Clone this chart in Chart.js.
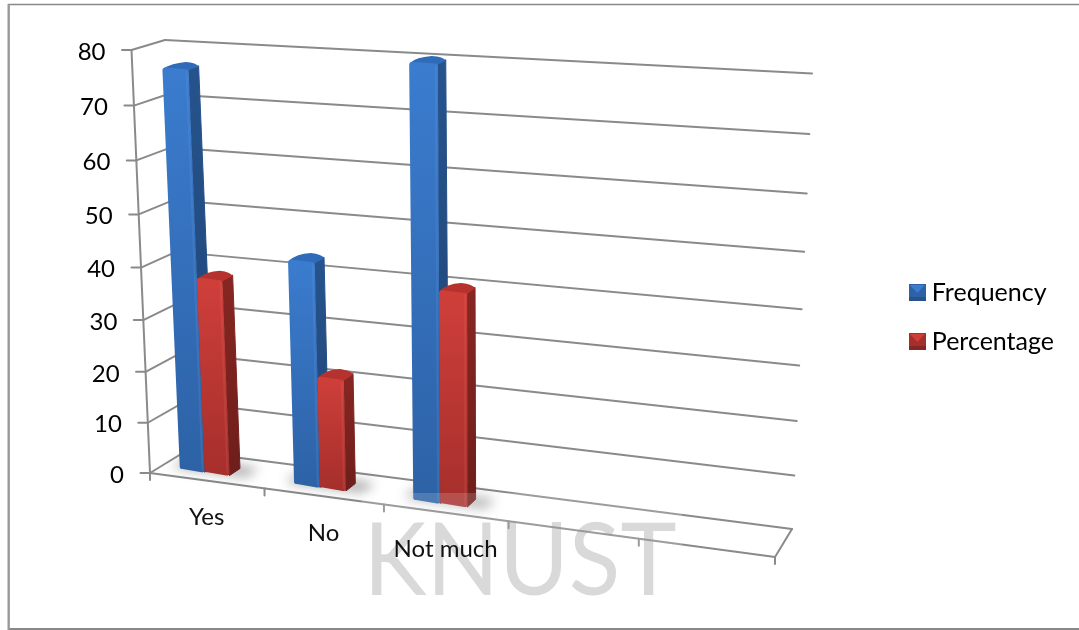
<!DOCTYPE html>
<html>
<head>
<meta charset="utf-8">
<title>Frequency and percentage</title>
<script src="https://cdn.jsdelivr.net/npm/chart.js@4/dist/chart.umd.min.js"></script>
<style>
  html, body { margin: 0; padding: 0; background: #fff; }
  #wrap { width: 1079px; height: 630px; }
</style>
</head>
<body>
<div id="wrap"><canvas id="chart" width="1079" height="630"></canvas></div>
<script>
const categories = ["Yes", "No", "Not much", "", ""];
const frequency = [76.5, 43, 80];
const percentage = [38, 21.5, 40];
const valueTicks = { min: 0, max: 80, step: 10 };

const FONT = "Lato";
const LINE = "#8a8a8a";

// corners of the box in screen space: front plane and back wall
const front = { tl: [131.5, 50], bl: [150, 473], br: [775, 557], tr: [796, 88] };
const back = { tl: [165, 40], bl: [186, 451], br: [792, 529], tr: [812, 73.5] };

// bars sit between these depths, 0 is the front plane and 1 the back wall
const barNear = 0.3, barFar = 0.61;
const barShift = -0.022;

const palette = {
  Frequency: { top: "#2f6bb8", faceA: "#3b7ccf", faceB: "#2d62a6", edge: "rgba(120,170,235,0.16)", side: "#26538c", sideB: "#1f4576" },
  Percentage: { top: "#b5322f", faceA: "#cf3f3a", faceB: "#a62f2c", edge: "rgba(240,120,110,0.16)", side: "#862622", sideB: "#6e1e1b" }
};

// unit square -> quad, the usual projective mapping
function makeHomography(q) {
  const [x0, y0] = q.tl, [x1, y1] = q.tr, [x2, y2] = q.br, [x3, y3] = q.bl;
  const dx1 = x1 - x2, dx2 = x3 - x2, sx = x0 - x1 + x2 - x3;
  const dy1 = y1 - y2, dy2 = y3 - y2, sy = y0 - y1 + y2 - y3;
  const den = dx1 * dy2 - dx2 * dy1;
  const g = (sx * dy2 - dx2 * sy) / den;
  const h = (dx1 * sy - sx * dy1) / den;
  const a = x1 - x0 + g * x1, b = x3 - x0 + h * x3;
  const d = y1 - y0 + g * y1, e = y3 - y0 + h * y3;
  return (s, t) => {
    const k = g * s + h * t + 1;
    return [(a * s + b * t + x0) / k, (d * s + e * t + y0) / k];
  };
}
const hFront = makeHomography(front);
const hBack = makeHomography(back);

// u along the categories, v up the values, w into the depth
function project(u, v, w) {
  const p = hFront(u, 1 - v), q = hBack(u, 1 - v);
  return [p[0] + (q[0] - p[0]) * w, p[1] + (q[1] - p[1]) * w];
}

function line(ctx, a, b) {
  ctx.beginPath();
  ctx.moveTo(a[0], a[1]);
  ctx.lineTo(b[0], b[1]);
  ctx.stroke();
}

function poly(ctx, pts) {
  ctx.beginPath();
  pts.forEach((p, i) => i ? ctx.lineTo(p[0], p[1]) : ctx.moveTo(p[0], p[1]));
  ctx.closePath();
}

function drawAxes(chart) {
  const ctx = chart.ctx, area = chart.chartArea;
  const xs = chart.scales.x, ys = chart.scales.y;
  const slot = area.width / categories.length;
  ctx.save();
  ctx.strokeStyle = LINE;
  ctx.lineWidth = 2;
  ctx.lineCap = "round";
  ctx.fillStyle = "#000";
  ctx.font = "24px " + FONT;

  // back wall gridlines, their run along the side wall, tick and number
  ys.ticks.forEach((tick) => {
    const v = (area.bottom - ys.getPixelForValue(tick.value)) / area.height;
    const a = project(0, v, 0), b = project(0, v, 1), c = project(1, v, 1);
    line(ctx, a, b);
    line(ctx, b, c);
    line(ctx, [a[0] - 9.5, a[1]], a);
    ctx.textAlign = "right";
    ctx.textBaseline = "middle";
    ctx.fillText(tick.label, a[0] - 26, a[1] + 2);
  });

  // value axis, floor front edge and floor right edge
  line(ctx, project(0, 0, 0), project(0, 1, 0));
  line(ctx, project(0, 0, 0), project(1, 0, 0));
  line(ctx, project(1, 0, 0), project(1, 0, 1));

  // category ticks along the front edge
  for (let i = 0; i <= categories.length; i++) {
    const u = (xs.getPixelForValue(i) - slot / 2 - area.left) / area.width;
    const p = project(u, 0, 0);
    line(ctx, p, [p[0], p[1] + 7]);
  }
  ctx.restore();
}

function drawCategoryNames(chart) {
  const ctx = chart.ctx, area = chart.chartArea;
  ctx.save();
  ctx.fillStyle = "#111";
  ctx.font = "24px " + FONT;
  ctx.textAlign = "center";
  ctx.textBaseline = "middle";
  categories.forEach((name, i) => {
    if (!name) return;
    const u = (chart.scales.x.getPixelForValue(i) - area.left) / area.width;
    const p = project(u, 0, 0);
    ctx.fillText(name, p[0], p[1] + 37);
  });
  ctx.restore();
}

function drawShadows(chart) {
  const ctx = chart.ctx, area = chart.chartArea;
  const metas = [chart.getDatasetMeta(0), chart.getDatasetMeta(1)];
  ctx.save();
  ctx.filter = "blur(6px)";
  ctx.fillStyle = "rgba(0,0,0,0.34)";
  metas[0].data.forEach((bar, i) => {
    const other = metas[1].data[i];
    const u0 = (bar.x - bar.width / 2 - area.left) / area.width + barShift - 0.016;
    const u1 = (other.x + other.width / 2 - area.left) / area.width + barShift + 0.028;
    poly(ctx, [project(u0, 0, barNear + 0.03), project(u1, 0, barNear + 0.03),
      project(u1, 0, barFar + 0.1), project(u0, 0, barFar + 0.1)]);
    ctx.fill();
  });
  ctx.restore();
}

function drawBox(ctx, area, bar, colors) {
  const u0 = (bar.x - bar.width / 2 - area.left) / area.width + barShift;
  const u1 = (bar.x + bar.width / 2 - area.left) / area.width + barShift;
  const v = (area.bottom - bar.y) / area.height;

  const fbl = project(u0, 0, barNear), fbr = project(u1, 0, barNear);
  const ftl = project(u0, v, barNear), ftr = project(u1, v, barNear);
  const bbr = project(u1, 0, barFar);
  const btl = project(u0, v, barFar), btr = project(u1, v, barFar);
  const backMid = [(btl[0] + btr[0]) / 2, (btl[1] + btr[1]) / 2 - 3];

  ctx.lineJoin = "round";

  // side face
  let g = ctx.createLinearGradient(0, ftr[1], 0, fbr[1]);
  g.addColorStop(0, colors.side);
  g.addColorStop(1, colors.sideB);
  ctx.fillStyle = g;
  ctx.strokeStyle = g;
  ctx.lineWidth = 1;
  poly(ctx, [ftr, btr, bbr, fbr]);
  ctx.fill();
  ctx.stroke();

  // top face with a soft hump along its back edge
  ctx.fillStyle = colors.top;
  ctx.beginPath();
  ctx.moveTo(ftl[0] + 0.5, ftl[1] + 1);
  ctx.quadraticCurveTo(btl[0] - 1, btl[1] - 1, backMid[0], backMid[1]);
  ctx.quadraticCurveTo(btr[0] - 2, btr[1] - 3, btr[0], btr[1] + 1);
  ctx.lineTo(ftr[0], ftr[1] + 1);
  ctx.closePath();
  ctx.fill();

  // front face, top corners rounded
  g = ctx.createLinearGradient(0, ftl[1], 0, fbl[1]);
  g.addColorStop(0, colors.faceA);
  g.addColorStop(1, colors.faceB);
  ctx.fillStyle = g;
  ctx.beginPath();
  ctx.moveTo(fbl[0], fbl[1] - 2);
  ctx.lineTo(ftl[0], ftl[1] + 3);
  ctx.quadraticCurveTo(ftl[0], ftl[1], ftl[0] + 3, ftl[1]);
  ctx.lineTo(ftr[0] - 2, ftr[1]);
  ctx.quadraticCurveTo(ftr[0], ftr[1], ftr[0], ftr[1] + 2);
  ctx.lineTo(fbr[0], fbr[1] - 2);
  ctx.quadraticCurveTo(fbr[0], fbr[1], fbr[0] - 3, fbr[1]);
  ctx.lineTo(fbl[0] + 3, fbl[1]);
  ctx.quadraticCurveTo(fbl[0], fbl[1], fbl[0], fbl[1] - 2);
  ctx.closePath();
  ctx.fill();

  // faint bevel down the right of the front face
  ctx.strokeStyle = colors.edge;
  ctx.lineWidth = 2;
  line(ctx, [ftr[0] - 2, ftr[1] + 2], [fbr[0] - 2, fbr[1] - 2]);
}

function drawWatermark(chart) {
  const ctx = chart.ctx;
  ctx.save();
  ctx.fillStyle = "rgba(255,255,255,0.16)";
  ctx.fillRect(362, 493, 320, 104);
  ctx.fillStyle = "rgba(150,150,150,0.36)";
  ctx.font = "100px " + FONT;
  ctx.textAlign = "center";
  ctx.textBaseline = "alphabetic";
  ctx.translate(520, 595);
  ctx.scale(0.95, 1);
  ctx.fillText("KNUST", 0, 0);
  ctx.restore();
}

const box3d = {
  id: "box3d",
  beforeDraw(chart) {
    const ctx = chart.ctx;
    ctx.save();
    ctx.fillStyle = "#fff";
    ctx.fillRect(0, 0, chart.width, chart.height);
    // outer chart border, open on the right
    ctx.strokeStyle = "#888";
    ctx.lineWidth = 1.4;
    line(ctx, [8, 4.5], [1079, 4.5]);
    ctx.lineWidth = 2;
    line(ctx, [8, 629], [1079, 629]);
    ctx.strokeStyle = "#999";
    ctx.lineWidth = 2.4;
    line(ctx, [8.7, 4], [8.7, 630]);
    ctx.restore();
  },
  beforeDatasetsDraw(chart) {
    drawAxes(chart);
    drawShadows(chart);
  },
  afterDatasetsDraw(chart) {
    const ctx = chart.ctx;
    ctx.save();
    chart.data.datasets.forEach((ds, i) => {
      chart.getDatasetMeta(i).data.forEach((bar) => {
        drawBox(ctx, chart.chartArea, bar, palette[ds.label]);
      });
    });
    ctx.restore();
    drawWatermark(chart);
    drawCategoryNames(chart);
  }
};

// small bevelled square for the legend
function legendMarker(colors) {
  const c = document.createElement("canvas");
  c.width = 17;
  c.height = 17;
  const m = c.getContext("2d");
  m.fillStyle = colors.faceB;
  m.fillRect(0, 0, 17, 17);
  m.fillStyle = colors.side;
  m.fillRect(0, 13, 17, 4);
  m.fillStyle = colors.faceA;
  m.beginPath();
  m.moveTo(1, 1);
  m.lineTo(16, 1);
  m.lineTo(8.5, 9);
  m.closePath();
  m.fill();
  return c;
}

new Chart(document.getElementById("chart"), {
  type: "bar",
  data: {
    labels: categories,
    datasets: [
      { label: "Frequency", data: frequency, backgroundColor: "rgba(0,0,0,0)" },
      { label: "Percentage", data: percentage, backgroundColor: "rgba(0,0,0,0)" }
    ]
  },
  options: {
    responsive: false,
    animation: false,
    layout: { padding: { right: 15, top: 4 } },
    categoryPercentage: 0.44,
    barPercentage: 1,
    scales: {
      x: { offset: true, grid: { display: false }, border: { display: false }, ticks: { display: false } },
      y: {
        min: valueTicks.min,
        max: valueTicks.max,
        grid: { display: false },
        border: { display: false },
        ticks: { display: false, stepSize: valueTicks.step }
      }
    },
    plugins: {
      tooltip: { enabled: false },
      legend: {
        position: "right",
        labels: {
          usePointStyle: true,
          pointStyleWidth: 4,
          padding: 24,
          color: "#000",
          font: { family: FONT, size: 25 },
          generateLabels(chart) {
            return chart.data.datasets.map((ds, i) => ({
              text: ds.label,
              datasetIndex: i,
              pointStyle: legendMarker(palette[ds.label]),
              fontColor: "#000",
              lineWidth: 0
            }));
          }
        }
      }
    }
  },
  plugins: [box3d]
});
</script>
</body>
</html>
